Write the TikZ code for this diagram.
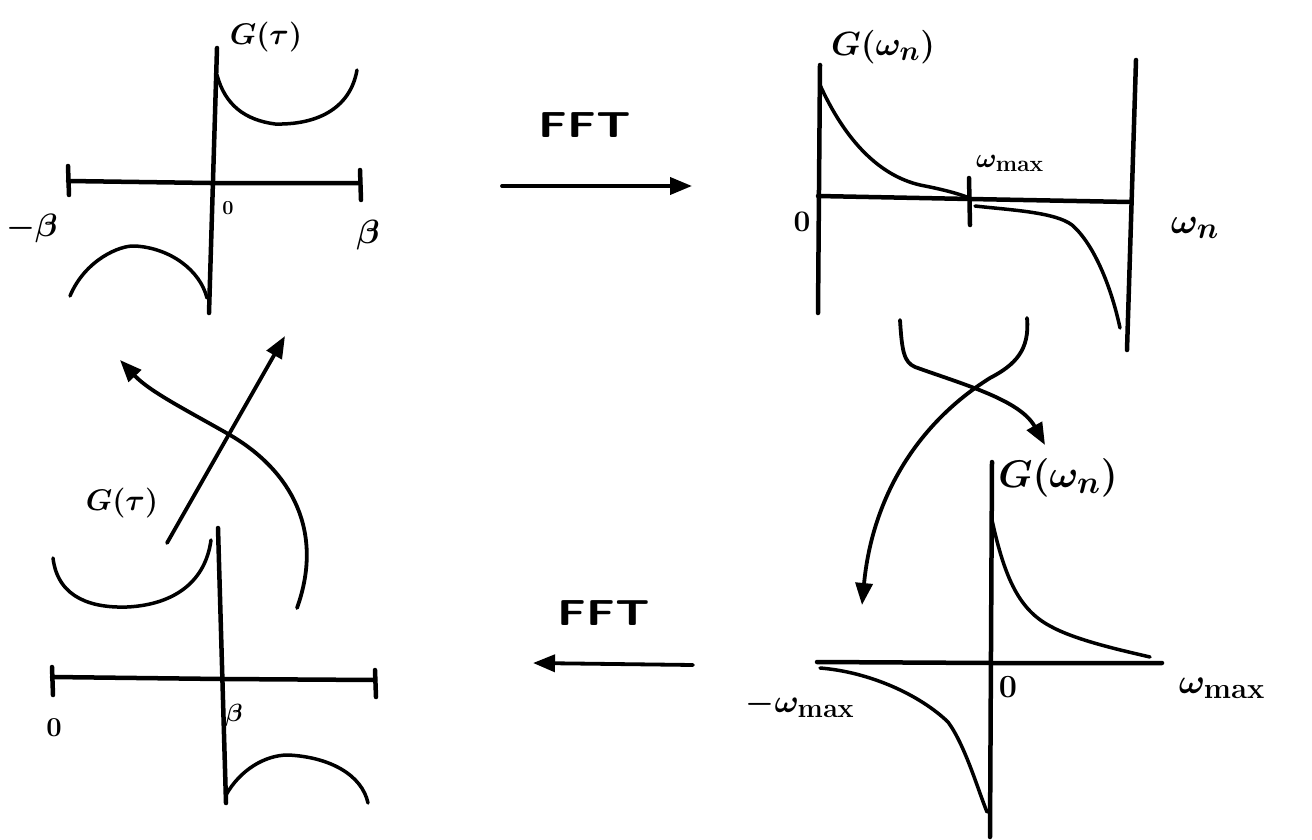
\documentclass[tikz,border=0pt]{standalone}
\usepackage{graphicx}
\usetikzlibrary{arrows.meta}
\newcommand{\skl}[2]{\scalebox{#1}{#2}}
\begin{document}
\begin{tikzpicture}[x=1pt,y=-1pt,
  axis/.style={line width=4.5pt, line cap=round, line join=round},
  curve/.style={line width=3.5pt, line cap=round, line join=round},
  arr/.style={line width=3.8pt, line cap=round, line join=round, -{Triangle[length=22pt,width=17pt]}},
  lbl/.style={inner sep=0pt, font=\boldmath\Huge},
  fftlbl/.style={inner sep=0pt, font=\sffamily\bfseries\Huge}
]
\useasboundingbox[fill=white] (0,0) rectangle (1312,840);

% ---------- Panel 1: G(tau) on [-beta, beta] ----------
\draw[axis] (217,48) -- (209,313);
\draw[axis] (68,181) -- (210,183) -- (360,183);
\draw[axis] (68,166) -- (69,195);
\draw[axis] (360,170) -- (361,200);
\draw[curve] (217,75) .. controls (225,105) and (245,120) .. (275,124) .. controls (315,125) and (350,110) .. (357,70);
\draw[curve] (70,296) .. controls (85,260) and (120,245) .. (135,246) .. controls (170,248) and (200,270) .. (207,298);
\node[lbl] (g1) at (266,37) {\skl{1.2}{$G(\tau)$}};
\node[lbl] (z1) at (228,208) {\skl{0.8}{$0$}};
\node[lbl] (mb1) at (32,228) {\skl{1.3}{$-\beta$}};
\node[lbl] (b1) at (368,235) {\skl{1.35}{$\beta$}};

% ---------- top FFT arrow ----------
\node[fftlbl] (fft1) at (585,125) {\scalebox{1.9}[1.45]{FFT}};
\coordinate (a1s) at (502,186);
\coordinate (a1e) at (692,186);
\draw[arr] (a1s) -- (a1e);

% ---------- Panel 2: G(omega_n) on [0, 2 omega_max] ----------
\draw[axis] (820,65) -- (818,313);
\draw[axis] (1136,60) -- (1127,350);
\draw[axis] (818,196) -- (970,199) -- (1130,202);
\draw[axis] (969,178) -- (970,225);
\draw[curve] (820,85) .. controls (845,140) and (880,178) .. (925,186) .. controls (950,191) and (962,195) .. (972,199);
\draw[curve] (975,206) .. controls (1010,210) and (1055,212) .. (1072,225) .. controls (1095,245) and (1112,290) .. (1120,328);
\node[lbl] (g2) at (883,47) {\skl{1.35}{$G(\omega_n)$}};
\node[lbl] (wm2) at (1010,163) {\skl{1.1}{$\omega_{\max}$}};
\node[lbl] (z2) at (802,222) {\skl{1.2}{$0$}};
\node[lbl] (wn2) at (1195,228) {\skl{1.45}{$\omega_n$}};

% ---------- crossing arrows (right) ----------
\coordinate (ca1) at (900,320);
\coordinate (ca2) at (1045,445);
\draw[arr] (ca1) .. controls (902,352) and (904,362) .. (915,367)
                 .. controls (965,385) and (1020,400) .. (ca2);
\coordinate (cb1) at (1027,318);
\coordinate (cb2) at (862,605);
\draw[arr] (cb1) .. controls (1030,350) and (1015,365) .. (990,378)
                 .. controls (915,425) and (872,500) .. (cb2);

% ---------- Panel 4: G(omega_n) on [-omega_max, omega_max] ----------
\draw[axis] (992,462) -- (990,837);
\draw[axis] (817,662) -- (990,663) -- (1162,663);
\draw[curve] (992,520) .. controls (1005,580) and (1020,610) .. (1050,626) .. controls (1075,640) and (1120,650) .. (1150,657);
\draw[curve] (820,668) .. controls (870,672) and (920,695) .. (948,722) .. controls (965,745) and (978,790) .. (987,812);
\node[lbl] (g4) at (1058,478) {\skl{1.55}{$G(\omega_n)$}};
\node[lbl] (z4) at (1008,687) {\skl{1.3}{$0$}};
\node[lbl] (mwm4) at (800,705) {\skl{1.3}{$-\omega_{\max}$}};
\node[lbl] (wm4) at (1222,688) {\skl{1.4}{$\omega_{\max}$}};

% ---------- bottom FFT arrow ----------
\node[fftlbl] (fft2) at (604,613) {\scalebox{1.9}[1.45]{FFT}};
\coordinate (a2s) at (693,665);
\coordinate (a2e) at (533,663);
\draw[arr] (a2s) -- (a2e);

% ---------- Panel 3: G(tau) on [0, beta] ----------
\draw[axis] (218,528) -- (226,803);
\draw[axis] (52,677) -- (222,679) -- (375,680);
\draw[axis] (52,667) -- (53,695);
\draw[axis] (375,670) -- (376,697);
\draw[curve] (53,558) .. controls (58,600) and (95,608) .. (127,607) .. controls (170,605) and (205,585) .. (211,540);
\draw[curve] (226,795) .. controls (240,770) and (265,755) .. (288,755) .. controls (330,757) and (362,775) .. (368,803);
\node[lbl] (g3) at (122,503) {\skl{1.2}{$G(\tau)$}};
\node[lbl] (z3) at (54,728) {\skl{1.1}{$0$}};
\node[lbl] (b3) at (234,715) {\skl{1.0}{$\beta$}};

% ---------- crossing arrows (left) ----------
\coordinate (c1) at (167,543);
\coordinate (c2) at (285,336);
\draw[arr] (c1) -- (c2);
\coordinate (d1) at (297,608);
\coordinate (d2) at (120,360);
\draw[arr] (d1) .. controls (325,530) and (290,470) .. (230,435)
                .. controls (190,412) and (150,392) .. (d2);
\end{tikzpicture}
\end{document}
